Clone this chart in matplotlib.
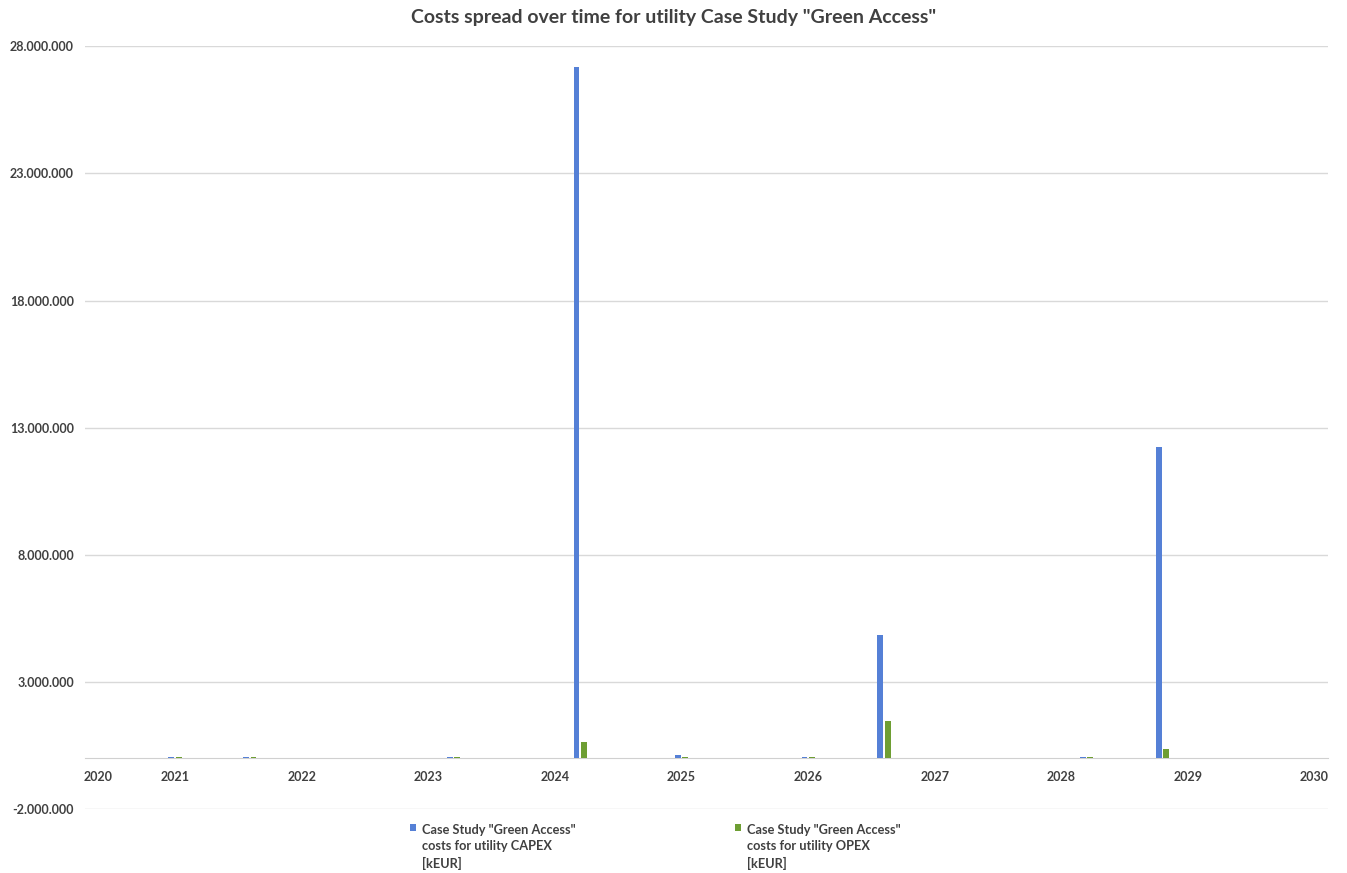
import matplotlib
matplotlib.use("Agg")
import matplotlib.pyplot as plt
from matplotlib.patches import Rectangle
from matplotlib.legend_handler import HandlerPatch
from matplotlib.ticker import FuncFormatter

plt.rcParams['font.family'] = ['Lato', 'DejaVu Sans']

# payment dates (decimal years) and costs per series
dates = [2021.0, 2021.59, 2023.2, 2024.2, 2025.0, 2026.0, 2026.6, 2028.2, 2028.8]
capex = [50000, 50000, 50000, 27200000, 120000, 50000, 4830000, 50000, 12220000]
opex = [50000, 50000, 50000, 630000, 60000, 50000, 1450000, 50000, 350000]

series_names = ['Case Study "Green Access"\ncosts for utility CAPEX\n[kEUR]',
                'Case Study "Green Access"\ncosts for utility OPEX\n[kEUR]']
year_labels = [str(y) for y in range(2020, 2031)]
year_pos = [2020.39] + list(range(2021, 2031))
y_ticks = list(range(-2000000, 28000001, 5000000))

blue = '#5580D6'
green = '#6E9E33'
txt = '#404040'


def top_square(legend, orig_handle, xdescent, ydescent, width, height, fontsize):
    s = 0.5 * fontsize
    return Rectangle((-xdescent, -ydescent + height - s + 0.78 * fontsize), s, s)


fig = plt.figure(figsize=(13.47, 8.73), dpi=100)
ax = fig.add_axes([0.0631, 0.0733, 0.9228, 0.8737])

w = 0.045
off = 0.029
b1 = ax.bar([d - off for d in dates], capex, width=w, color=blue, zorder=3)
b2 = ax.bar([d + off for d in dates], opex, width=w, color=green, zorder=3)

ax.set_xlim(2020.289, 2030.107)
ax.set_ylim(-2000000, 28000000)
ax.set_yticks(y_ticks)
ax.yaxis.set_major_formatter(FuncFormatter(lambda v, p: f"{v:,.0f}".replace(',', '.')))
ax.set_xticks(year_pos)
ax.set_xticklabels(year_labels)

ax.grid(axis='y', color='#D9D9D9', lw=1, zorder=0)
for s in ['top', 'right', 'left']:
    ax.spines[s].set_visible(False)
ax.spines['bottom'].set_position(('data', 0))
ax.spines['bottom'].set_color('#D0D0D0')
ax.spines['bottom'].set_zorder(2)
ax.tick_params(axis='both', length=0, labelsize=9, labelcolor=txt)
ax.tick_params(axis='x', pad=9)
ax.tick_params(axis='y', pad=8)
for lab in ax.get_xticklabels() + ax.get_yticklabels():
    lab.set_fontweight('bold')

fig.suptitle('Costs spread over time for utility Case Study "Green Access"',
             x=0.5, y=0.99, fontsize=14, fontweight='bold', color=txt)

h1, h2 = b1.patches[0], b2.patches[0]
leg = fig.legend(handles=[h1, h2], labels=series_names, loc='upper left',
                 bbox_to_anchor=(0.2955, 0.069), ncol=2, frameon=False,
                 prop={'weight': 'bold', 'size': 9.2},
                 handlelength=0.5, handleheight=3.0, handletextpad=0.45, columnspacing=12.5,
                 handler_map={h1: HandlerPatch(patch_func=top_square),
                              h2: HandlerPatch(patch_func=top_square)})
for t in leg.get_texts():
    t.set_color(txt)
    t.set_linespacing(1.4)

fig.savefig('out.png', dpi=100)
